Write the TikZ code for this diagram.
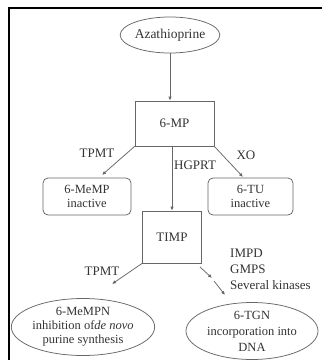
\documentclass[tikz,border=0pt]{standalone}
\usepackage{fontspec}
\setmainfont{Liberation Serif}
\usetikzlibrary{shapes.geometric,arrows.meta}
\begin{document}
\begin{tikzpicture}[x=1pt,y=-1pt,
  every node/.style={font=\fontsize{13}{15}\selectfont, text=black!80, inner sep=1pt},
  ln/.style={draw=black!60, line width=0.75pt},
  arr/.style={ln, -{Latex[length=4pt,width=3.5pt]}},
  ell/.style={ln, ellipse, align=center, inner sep=0pt},
  sq/.style={ln, rectangle, align=center},
  rbox/.style={ln, rectangle, rounded corners=5pt, align=center, font=\fontsize{12.5}{14}\selectfont},
  lab/.style={}
]
\useasboundingbox (0,0) rectangle (322,360);
\draw[line width=2pt, black] (9.3,360) -- (9.3,7.7) -- (322,7.7);

\node[ell, minimum width=95, minimum height=36, font=\fontsize{13.5}{15}\selectfont] (aza) at (170,35) {Azathioprine};
\node[sq, minimum width=79, minimum height=45] (mp) at (174.5,123.5) {6-MP};
\node[rbox, minimum width=88, minimum height=37] (memp) at (87,196.5) {6-MeMP\\inactive};
\node[rbox, minimum width=85, minimum height=37] (tu) at (250.5,196.5) {6-TU\\inactive};
\node[sq, minimum width=59, minimum height=52] (timp) at (172,237) {TIMP};
\node[ell, minimum width=140, minimum height=57, font=\fontsize{12.5}{14}\selectfont] (mpn) at (83,327) {6-MeMPN\\inhibition of\textit{de novo}\\purine synthesis};
\node[ell, minimum width=132, minimum height=57, font=\fontsize{12.5}{16}\selectfont] (tgn) at (252,331) {6-TGN\\incorporation into\\DNA};

\node[lab] (l1) at (97,153) {TPMT};
\node[lab, anchor=west] (l2) at (173,165) {HGPRT};
\node[lab] (l3) at (246,155) {XO};
\node[lab] (l4) at (102,271) {TPMT};
\node[lab, align=left, anchor=west, font=\fontsize{13}{16}\selectfont] (l5) at (229,269) {IMPD\\GMPS\\Several kinases};

\coordinate (e1) at (102,175);
\coordinate (e2) at (243,177);
\coordinate (e3) at (112,284);
\coordinate (s4) at (200,267);
\coordinate (e4) at (212,278);
\coordinate (s5) at (214,281);
\coordinate (e5) at (225,295);

\draw[arr] (aza.south) -- (aza.south |- mp.north);
\draw[arr] (mp.south west) -- (e1);
\draw[arr] (mp.south east) -- (e2);
\draw[arr] (timp.north |- mp.south) -- (timp.north);
\draw[arr] (timp.south west) -- (e3);
\draw[arr] (s4) -- (e4);
\draw[arr] (s5) -- (e5);
\end{tikzpicture}
\end{document}
